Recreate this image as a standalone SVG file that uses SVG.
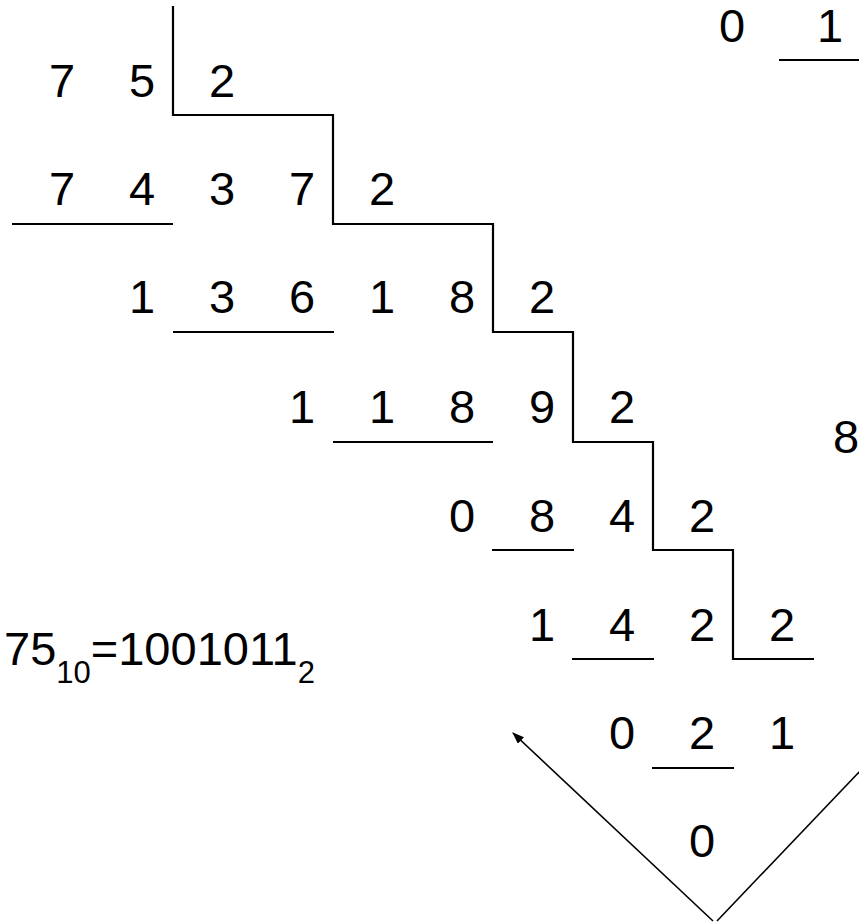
<svg xmlns="http://www.w3.org/2000/svg" width="859" height="924" viewBox="0 0 859 924">
<style>
  .d { font-family: "Liberation Sans", Arial, sans-serif; font-size: 47px; fill: #000; text-anchor: middle; }
  .eq { font-family: "Liberation Sans", Arial, sans-serif; font-size: 47px; fill: #000; }
  .ln { stroke: #000; stroke-width: 2.2; fill: none; }
  .ar { stroke: #000; stroke-width: 1.6; fill: none; }
</style>
<defs>
  <marker id="ah" markerWidth="12" markerHeight="9" refX="11" refY="4.5" orient="auto" markerUnits="userSpaceOnUse">
    <path d="M0,0 L12,4.5 L0,9 Z" fill="#000"/>
  </marker>
</defs>
<rect width="859" height="924" fill="#fff"/>

<g id="connectors">
  <polyline id="stair" class="ln" points="173,6 173,115 333,115 333,224 493,224 493,332 573,332 573,442 653,442 653,550 733,550 733,659 814,659"/>
  <line class="ln" x1="12" y1="224" x2="173" y2="224"/>
  <line class="ln" x1="173" y1="332" x2="334" y2="332"/>
  <line class="ln" x1="333" y1="442" x2="493" y2="442"/>
  <line class="ln" x1="492" y1="550" x2="574" y2="550"/>
  <line class="ln" x1="572" y1="659" x2="654" y2="659"/>
  <line class="ln" x1="652" y1="768" x2="734" y2="768"/>
  <line class="ln" x1="779" y1="60" x2="859" y2="60"/>
  <line class="ar" x1="713" y1="921" x2="513" y2="733" marker-end="url(#ah)"/>
  <line class="ar" x1="717" y1="921" x2="861" y2="770"/>
</g>

<g id="row1">
  <text class="d" x="62" y="97">7</text>
  <text class="d" x="142" y="97">5</text>
  <text class="d" x="222" y="97">2</text>
</g>
<g id="row2">
  <text class="d" x="62" y="205">7</text>
  <text class="d" x="142" y="205">4</text>
  <text class="d" x="222" y="205">3</text>
  <text class="d" x="302" y="205">7</text>
  <text class="d" x="382" y="205">2</text>
</g>
<g id="row3">
  <text class="d" x="142" y="313">1</text>
  <text class="d" x="222" y="313">3</text>
  <text class="d" x="302" y="313">6</text>
  <text class="d" x="382" y="313">1</text>
  <text class="d" x="462" y="313">8</text>
  <text class="d" x="542" y="313">2</text>
</g>
<g id="row4">
  <text class="d" x="302" y="423">1</text>
  <text class="d" x="382" y="423">1</text>
  <text class="d" x="462" y="423">8</text>
  <text class="d" x="542" y="423">9</text>
  <text class="d" x="622" y="423">2</text>
</g>
<g id="row5">
  <text class="d" x="462" y="532">0</text>
  <text class="d" x="542" y="532">8</text>
  <text class="d" x="622" y="532">4</text>
  <text class="d" x="702" y="532">2</text>
</g>
<g id="row6">
  <text class="d" x="542" y="641">1</text>
  <text class="d" x="622" y="641">4</text>
  <text class="d" x="702" y="641">2</text>
  <text class="d" x="782" y="641">2</text>
</g>
<g id="row7">
  <text class="d" x="622" y="749">0</text>
  <text class="d" x="702" y="749">2</text>
  <text class="d" x="782" y="749">1</text>
</g>
<g id="row8">
  <text class="d" x="702" y="857">0</text>
</g>
<g id="topright">
  <text class="d" x="732" y="42">0</text>
  <text class="d" x="830" y="42">1</text>
  <text class="d" x="846" y="453">8</text>
</g>
<g id="result">
  <text class="eq" x="4" y="665">75<tspan font-size="31" dy="18">10</tspan><tspan dy="-18">=1001011</tspan><tspan font-size="31" dy="18">2</tspan></text>
</g>
</svg>
